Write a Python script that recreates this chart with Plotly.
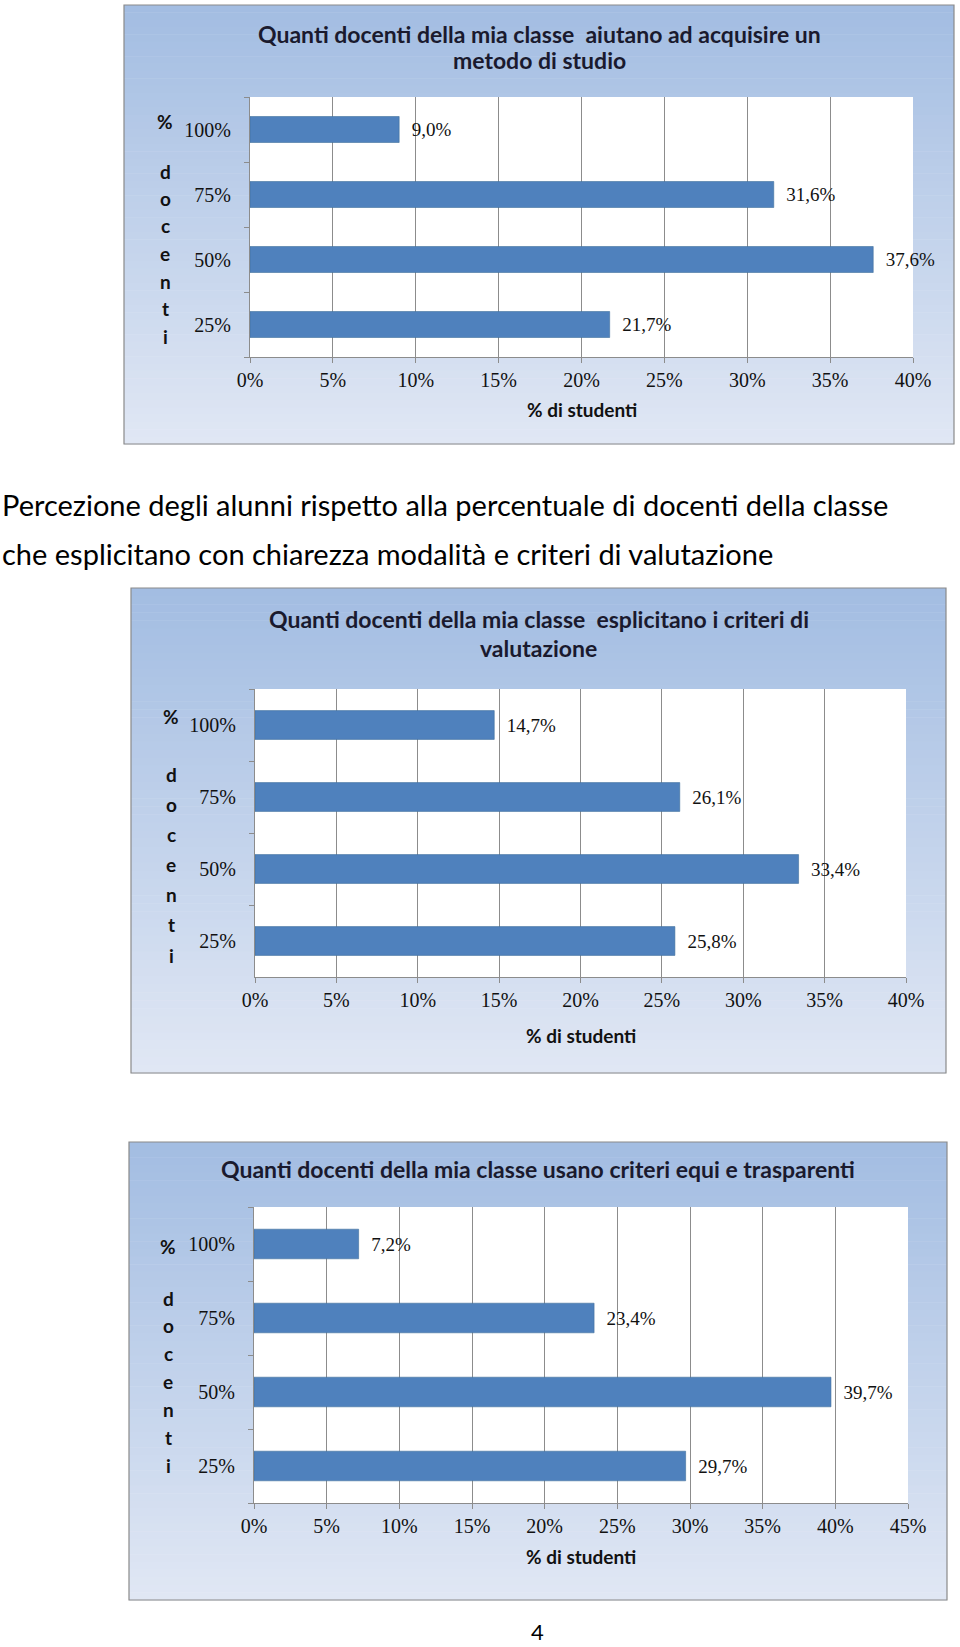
import plotly.graph_objects as go

W, H = 960, 1647

categories = ["25%", "50%", "75%", "100%"]

title_lines = [
    ["Quanti docenti della mia classe  aiutano ad acquisire un", "metodo di studio"],
    ["Quanti docenti della mia classe  esplicitano i criteri di", "valutazione"],
    ["Quanti docenti della mia classe usano criteri equi e trasparenti"],
]
values_metodo = [21.7, 37.6, 31.6, 9.0]
values_espliciti = [25.8, 33.4, 26.1, 14.7]
values_equi = [29.7, 39.7, 23.4, 7.2]
x_max = [40, 40, 45]
x_title = "% di studenti"
y_title_letters = ["d", "o", "c", "e", "n", "t", "i"]
heading_lines = [
    "Percezione degli alunni rispetto alla percentuale di docenti della classe",
    "che esplicitano con chiarezza modalità e criteri di valutazione",
]
page_number = "4"

series = [values_metodo, values_espliciti, values_equi]

# layout geometry in pixels (left, right, top, bottom)
boxes = [(124, 954, 5, 444), (131, 946, 588, 1073), (129, 947, 1142, 1600)]
plots = [(250, 913, 97, 357), (255, 906, 689, 977), (254, 908, 1207, 1503)]
title_y = [(34, 60), (619, 648), (1169,)]
xtitle_y = [409, 1035, 1556]
pct_pos = [(165, 121), (171, 716), (168, 1246)]
letters_span = [(171, 336), (774, 955), (1298, 1465)]

def px(x):
    return x / W

def py(y):
    return 1 - y / H

BAR = "#4f81bd"
GRID = "#8c8c8c"
SERIF = "Liberation Serif"
SANS = "Lato"

fig = go.Figure()
shapes = []
annotations = []

top_rgb = (163, 189, 226)
bot_rgb = (224, 231, 244)

for i, vals in enumerate(series):
    n = i + 1
    xa = "x" if n == 1 else f"x{n}"
    ya = "y" if n == 1 else f"y{n}"
    labels = ["\u00a0\u00a0" + f"{v:.1f}%".replace(".", ",") for v in vals]
    fig.add_trace(go.Bar(
        x=vals, y=categories, orientation="h",
        marker=dict(color=BAR, line=dict(color="#41719c", width=0.6)),
        text=labels, textposition="outside", cliponaxis=False,
        textfont=dict(family=SERIF, size=19, color="#111"),
        xaxis=xa, yaxis=ya, showlegend=False, hoverinfo="skip",
    ))
    l, r, t, b = plots[i]
    axx = dict(
        domain=[px(l), px(r)], range=[0, x_max[i]], dtick=5, ticksuffix="%",
        showgrid=True, gridcolor=GRID, gridwidth=1,
        showline=True, linecolor=GRID, linewidth=1,
        ticks="outside", ticklen=5, tickcolor=GRID,
        tickfont=dict(family=SERIF, size=20, color="#111"),
        zeroline=False, anchor=ya, fixedrange=True, automargin=False,
    )
    axy = dict(
        domain=[py(b), py(t)], type="category", categoryorder="array",
        categoryarray=categories, range=[-0.5, 3.5],
        showgrid=False, showline=True, linecolor=GRID, linewidth=1,
        ticks="outside", ticklen=5, tickcolor=GRID, tickson="boundaries",
        ticklabelstandoff=14,
        tickfont=dict(family=SERIF, size=20, color="#111"),
        zeroline=False, anchor=xa, fixedrange=True, automargin=False,
    )
    fig.layout[f"xaxis{'' if n == 1 else n}"] = axx
    fig.layout[f"yaxis{'' if n == 1 else n}"] = axy

    # gradient background box
    bl, br, bt, bb = boxes[i]
    steps = 60
    for s in range(steps):
        f = s / (steps - 1)
        c = tuple(int(round(top_rgb[k] + (bot_rgb[k] - top_rgb[k]) * f)) for k in range(3))
        y0 = bt + (bb - bt) * s / steps
        y1 = bt + (bb - bt) * (s + 1) / steps + 0.5
        shapes.append(dict(type="rect", xref="paper", yref="paper", layer="below",
                           x0=px(bl), x1=px(br), y0=py(y1), y1=py(y0),
                           fillcolor=f"rgb{c}", line=dict(width=0)))
    shapes.append(dict(type="rect", xref="paper", yref="paper", layer="below",
                       x0=px(bl), x1=px(br), y0=py(bb), y1=py(bt),
                       fillcolor="rgba(0,0,0,0)", line=dict(color="#8a8a8a", width=1.2)))
    shapes.append(dict(type="rect", xref="paper", yref="paper", layer="below",
                       x0=px(l), x1=px(r), y0=py(b), y1=py(t),
                       fillcolor="white", line=dict(width=0)))

    # title lines
    for j, line in enumerate(title_lines[i]):
        annotations.append(dict(
            text=f"<b>{line}</b>", xref="paper", yref="paper",
            x=px((bl + br) / 2), y=py(title_y[i][j]), xanchor="center", yanchor="middle",
            showarrow=False, font=dict(family=SANS, size=23, color="#1a1a2e"),
        ))
    # x title
    annotations.append(dict(
        text=f"<b>{x_title}</b>", xref="paper", yref="paper",
        x=px((l + r) / 2), y=py(xtitle_y[i]), xanchor="center", yanchor="middle",
        showarrow=False, font=dict(family=SANS, size=19, color="#111"),
    ))
    # y title
    annotations.append(dict(
        text="<b>%</b>", xref="paper", yref="paper",
        x=px(pct_pos[i][0]), y=py(pct_pos[i][1]), xanchor="center", yanchor="middle",
        showarrow=False, font=dict(family=SANS, size=19, color="#111"),
    ))
    y0, y1 = letters_span[i]
    for k, ch in enumerate(y_title_letters):
        yy = y0 + (y1 - y0) * k / (len(y_title_letters) - 1)
        annotations.append(dict(
            text=f"<b>{ch}</b>", xref="paper", yref="paper",
            x=px(pct_pos[i][0]), y=py(yy), xanchor="center", yanchor="middle",
            showarrow=False, font=dict(family=SANS, size=19, color="#111"),
        ))

for j, line in enumerate(heading_lines):
    annotations.append(dict(
        text=line, xref="paper", yref="paper",
        x=px(0), y=py([505, 553][j]), xanchor="left", yanchor="middle",
        showarrow=False, font=dict(family=SANS, size=29, color="#000"),
    ))
annotations.append(dict(
    text=page_number, xref="paper", yref="paper",
    x=px(537), y=py(1631), xanchor="center", yanchor="middle",
    showarrow=False, font=dict(family=SANS, size=22, color="#000"),
))

fig.update_layout(
    width=W, height=H, autosize=False,
    margin=dict(l=0, r=0, t=0, b=0, autoexpand=False),
    paper_bgcolor="white", plot_bgcolor="white",
    bargap=0.6, shapes=shapes, annotations=annotations,
    showlegend=False,
)

fig.write_html("out.html", config={"displayModeBar": False})
